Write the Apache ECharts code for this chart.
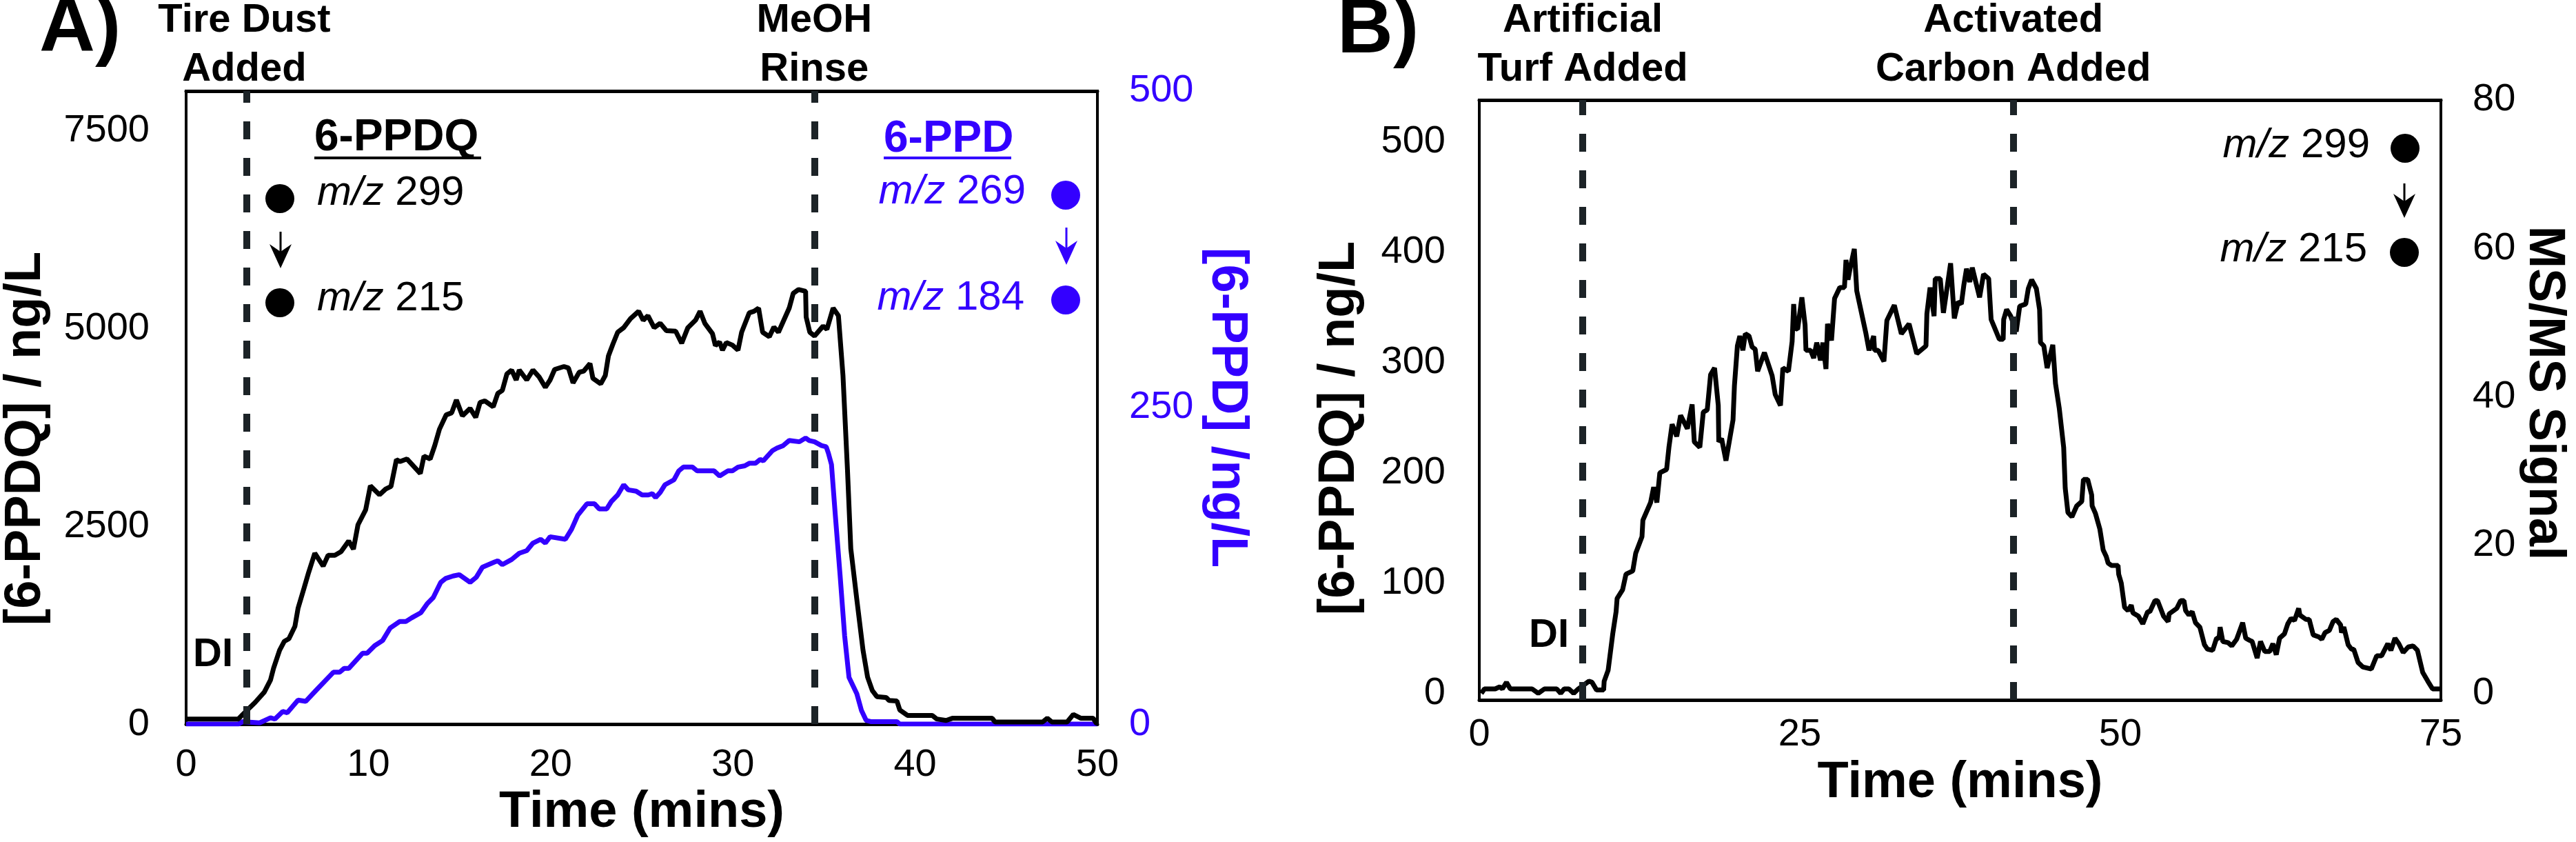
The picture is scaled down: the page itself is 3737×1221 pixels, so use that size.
<!DOCTYPE html>
<html><head><meta charset="utf-8">
<script src="https://cdn.jsdelivr.net/npm/echarts@6/dist/echarts.min.js"></script>
<style>html,body{margin:0;padding:0;background:#fff}#c{width:3737px;height:1221px}</style>
</head><body><div id="c"></div>
<script>
// ---------- DATA ----------
// Panel A: 6-PPDQ (left axis, ng/L)
const timeA_PPDQ = [0,2.86,3.11,3.78,4.29,4.63,4.80,5.13,5.39,5.64,5.97,6.14,6.48,6.72,7.06,7.52,7.79,8.16,8.50,8.92,9.18,9.43,9.85,10.11,10.61,10.95,11.24,11.54,11.74,12.12,12.85,13.05,13.39,13.64,13.90,14.27,14.57,14.83,15.16,15.58,15.89,16.13,16.39,16.85,17.10,17.35,17.60,17.86,18.11,18.28,18.69,19.03,19.37,19.71,19.97,20.22,20.73,20.98,21.23,21.57,21.82,22.16,22.32,22.75,23.00,23.17,23.42,23.68,24.01,24.38,24.83,25.08,25.34,25.68,26.01,26.35,26.86,27.19,27.53,27.95,28.20,28.46,28.88,29.04,29.27,29.43,29.64,29.97,30.28,30.48,30.90,31.16,31.41,31.63,32.00,32.25,32.50,33.09,33.31,33.60,33.99,34.02,34.22,34.48,34.95,35.16,35.50,35.79,36.04,36.29,36.47,36.80,37.14,37.39,37.65,37.90,38.41,38.57,39.00,39.16,39.58,40.94,41.19,41.70,42.04,44.23,44.38,47.00,47.25,47.50,48.34,48.68,49.10,49.77,49.95,50];
const valA_PPDQ = [65,65,122,273,405,557,707,934,1047,1079,1236,1462,1726,1915,2160,1997,2134,2134,2179,2315,2211,2519,2707,3011,2898,2971,3003,3342,3318,3351,3168,3386,3351,3519,3727,3908,3934,4097,3896,3990,3877,4066,4085,4010,4179,4217,4425,4474,4349,4474,4349,4474,4387,4256,4349,4482,4519,4500,4312,4447,4462,4557,4369,4300,4406,4651,4804,4952,5010,5123,5217,5104,5161,5010,5065,4972,4965,4813,5010,5104,5217,5065,4934,4783,4830,4726,4822,4790,4726,4952,5198,5217,5257,4952,4896,5017,4952,5257,5444,5492,5470,5144,4952,4904,5030,4990,5257,5161,4406,3198,2217,1575,934,594,424,348,337,299,292,178,110,110,65,47,74,74,28,28,74,28,28,122,74,74,9,9];
// Panel A: 6-PPD (right axis, ng/L)
const timeA_PPD = [0,2.86,3.11,4.03,4.63,4.87,5.30,5.55,6.14,6.56,7.15,8.08,8.42,8.67,8.92,9.68,9.93,10.35,10.78,11.20,11.71,12.05,12.38,12.88,13.22,13.56,13.97,14.23,14.65,14.99,15.58,15.92,16.26,16.92,17.10,17.35,17.86,18.28,18.69,19.03,19.45,19.71,19.97,20.81,21.15,21.49,21.99,22.41,22.66,23.08,23.34,23.68,24.01,24.26,24.69,25.02,25.36,25.58,25.76,26.01,26.27,26.77,27.03,27.28,27.78,28.04,28.97,29.27,29.72,29.97,30.28,30.65,30.90,31.24,31.50,31.67,32.17,32.42,32.76,33.09,33.65,33.99,34.19,34.48,34.86,35.12,35.24,35.41,35.62,35.88,36.13,36.37,36.80,37.05,37.31,37.56,39.00,39.16,50];
const valA_PPD = [0,0,2,1,5,4,10,9,19,18,27,41,41,44,44,56,56,62,66,76,81,81,84,88,95,100,112,115,117,118,112,116,124,128,129,126,130,135,137,143,146,143,148,146,154,165,174,174,170,170,176,181,189,185,184,181,181,182,179,183,189,193,200,203,203,200,200,196,200,200,203,204,206,206,209,208,216,218,220,224,223,226,224,223,220,219,214,205,165,118,70,37,24,11,3,2,2,0,0];
// Panel B: 6-PPDQ (left axis, ng/L)
const timeB = [0.16,0.40,1.24,1.60,1.80,2.12,2.42,4.12,4.60,5.08,6.04,6.35,6.62,6.99,7.36,7.72,7.96,8.55,8.79,9.15,9.70,9.74,10.05,10.41,10.67,10.75,11.18,11.44,11.97,12.20,12.69,12.76,13.36,13.60,13.85,14.08,14.61,14.79,15.04,15.40,15.70,16.23,16.60,16.77,17.20,17.47,17.78,18.04,18.35,18.64,18.68,18.90,19.24,19.79,19.90,20.13,20.32,20.56,20.75,21.04,21.28,21.52,21.71,22.24,22.84,23.08,23.49,23.68,24.11,24.40,24.52,24.64,24.83,25.16,25.41,25.48,25.84,26.08,26.32,26.61,26.80,27.04,27.16,27.47,27.71,28.12,28.48,28.60,28.76,28.90,29.25,29.44,30.16,30.40,30.76,30.83,31.11,31.56,31.79,32.37,32.92,33.52,34.12,34.84,34.91,35.16,35.47,35.56,35.95,36.20,36.76,37.05,37.35,37.60,37.79,38.00,38.25,38.45,39.02,39.33,39.73,39.92,40.17,40.56,40.86,40.90,41.13,41.45,41.88,42.15,42.62,42.82,43.08,43.45,43.70,43.77,44.03,44.29,44.73,44.94,45.24,45.58,45.70,45.91,46.22,46.60,46.99,47.12,47.45,47.76,47.80,48.06,48.40,48.66,48.90,49.05,49.30,49.82,49.87,50.07,50.33,50.60,50.85,50.98,51.41,51.75,52.13,52.30,52.70,52.90,53.37,53.73,53.80,54.40,54.70,54.96,55.09,55.35,55.60,55.86,56.20,56.56,56.80,57.20,57.50,57.70,57.78,57.99,58.40,58.69,59.07,59.54,59.78,60.09,60.28,60.67,60.93,61.26,61.65,61.90,62.16,62.42,62.80,63.06,63.32,63.58,63.91,64.00,64.48,64.73,65.04,65.50,65.71,65.96,66.30,66.59,66.84,67.18,67.25,67.43,67.77,68.03,68.20,68.54,68.90,69.57,69.99,70.37,70.86,71.10,71.42,71.72,72.06,72.45,72.83,73.17,73.58,73.98,74.35,74.98];
const valB = [0,4,4,6,4,10,4,4,0,4,4,0,4,4,0,4,6,11,10,3,3,11,21,54,74,86,94,108,111,127,142,157,173,187,173,200,203,223,244,233,252,240,262,228,223,255,257,289,295,261,228,231,211,248,279,315,324,311,326,324,314,312,292,309,288,271,261,295,292,319,353,331,330,359,334,311,311,304,318,302,318,294,335,320,358,368,368,393,375,384,403,365,326,311,324,311,311,301,338,352,326,335,308,315,344,368,342,376,376,345,390,340,355,353,370,385,373,386,359,380,376,339,332,321,321,339,348,342,328,351,353,367,375,367,348,318,315,295,316,281,258,223,186,164,160,170,174,194,194,180,170,163,149,130,124,118,116,116,108,100,78,75,80,73,70,63,74,74,84,84,70,65,72,77,84,84,75,71,74,64,60,44,40,39,50,50,60,47,46,43,49,64,50,48,47,32,47,38,38,45,35,50,54,63,68,66,77,71,67,67,53,51,49,55,57,65,67,62,55,60,44,40,40,28,24,22,34,34,45,39,50,45,37,42,43,39,19,11,4,4];

// events (dashed lines) and labels
const eventTimesA = [3.3, 34.5];
const eventLabelsA = [['Tire Dust', 'Added'], ['MeOH', 'Rinse']];
const eventTimesB = [8.07, 41.65];
const eventLabelsB = [['Artificial', 'Turf Added'], ['Activated', 'Carbon Added']];

// tick labels
const xTicksA = [0, 10, 20, 30, 40, 50];
const leftTicksA = [0, 2500, 5000, 7500];
const rightTicksA = [0, 250, 500];
const xTicksB = [0, 25, 50, 75];
const leftTicksB = [0, 100, 200, 300, 400, 500];
const rightTicksB = [0, 20, 40, 60, 80];

// ---------- STYLE ----------
const FONT = "'Liberation Sans', Arial, Helvetica, sans-serif";
const BLUE = '#3300ff';
const DASH = '#1c2327';
const pairs = (t, v) => t.map((x, i) => [x, v[i]]);
const plain = v => String(v);

const gA = {left: 267, top: 132, width: 1325, height: 919};
const gB = {left: 2146, top: 145, width: 1395, height: 870};

function xAxisBottom(gi, min, max, interval, ticks, margin, nameGap) {
  return {
    gridIndex: gi, type: 'value', position: 'bottom', min, max, interval,
    axisLine: {show: true, onZero: false, lineStyle: {color: '#000', width: 5}},
    axisTick: {show: false}, splitLine: {show: false},
    axisLabel: {customValues: ticks, formatter: plain, fontSize: 56, fontFamily: FONT, color: '#000', margin},
    name: 'Time (mins)', nameLocation: 'middle', nameGap,
    nameTextStyle: {fontSize: 74, fontWeight: 'bold', fontFamily: FONT, color: '#000'}
  };
}
function xAxisTop(gi, min, max) {
  return {
    gridIndex: gi, type: 'value', position: 'top', min, max,
    axisLine: {show: true, onZero: false, lineStyle: {color: '#000', width: 5}},
    axisTick: {show: false}, splitLine: {show: false}, axisLabel: {show: false}
  };
}
function yAxis(gi, pos, min, max, ticks, color, margin, name, nameGap, rotate, padding) {
  return {
    gridIndex: gi, type: 'value', position: pos, min, max,
    axisLine: {show: true, onZero: false, lineStyle: {color: '#000', width: 4}},
    axisTick: {show: false}, splitLine: {show: false},
    axisLabel: {customValues: ticks, formatter: plain, fontSize: 56, fontFamily: FONT, color, margin},
    name, nameLocation: 'middle', nameGap, nameRotate: rotate,
    nameTextStyle: {fontSize: 74, fontWeight: 'bold', fontFamily: FONT, color, padding}
  };
}
function markLines(times) {
  return {
    silent: true, symbol: ['none', 'none'], animation: false,
    label: {show: false},
    lineStyle: {color: DASH, width: 10, type: [26, 27], opacity: 1},
    emphasis: {disabled: true},
    data: times.map(t => ({xAxis: t}))
  };
}

// ---------- annotation graphics ----------
const G = [];
function txt(x, y, text, o) {
  o = o || {};
  const st = {
    text, x, y,
    fontSize: o.size || 58, fontWeight: o.bold ? 'bold' : 'normal', fontFamily: FONT,
    fill: o.color || '#000', textFill: o.color || '#000',
    align: o.align || 'left', textAlign: o.align || 'left',
    verticalAlign: 'middle', textVerticalAlign: 'middle'
  };
  if (o.rich) st.rich = o.rich;
  G.push({type: 'text', z: 100, style: st});
}
function circle(cx, cy, color) {
  G.push({type: 'circle', z: 100, shape: {cx, cy, r: 21}, style: {fill: color}});
}
function arrow(x, yTop, yTip, color) {
  G.push({type: 'line', z: 100, shape: {x1: x, y1: yTop, x2: x, y2: yTip - 20}, style: {stroke: color, lineWidth: 3}});
  const h = 35;
  G.push({type: 'polygon', z: 100, shape: {points: [[x - 16, yTip - h], [x, yTip], [x + 16, yTip - h], [x, yTip - h + 11]]}, style: {fill: color}});
}
function underline(x1, x2, y, color) {
  G.push({type: 'line', z: 100, shape: {x1, y1: y, x2, y2: y}, style: {stroke: color, lineWidth: 4}});
}
const mzRich = (c) => ({i: {fontStyle: 'italic', fontSize: 60, fontFamily: FONT, fill: c, textFill: c}});

// panel letters
txt(57, 43, 'A)', {size: 112, bold: true});
txt(1940, 45, 'B)', {size: 112, bold: true});
// event labels (centred on the dashed lines)
const xA = t => gA.left + t / 50 * gA.width;
const xB = t => gB.left + t / 75 * gB.width;
eventLabelsA.forEach((l, i) => { txt(xA(eventTimesA[i]), 30, l[0], {bold: true, align: 'center'}); txt(xA(eventTimesA[i]), 101, l[1], {bold: true, align: 'center'}); });
eventLabelsB.forEach((l, i) => { txt(xB(eventTimesB[i]), 30, l[0], {bold: true, align: 'center'}); txt(xB(eventTimesB[i]), 101, l[1], {bold: true, align: 'center'}); });
// DI labels
txt(280, 950, 'DI', {bold: true});
txt(2218, 922, 'DI', {bold: true});
// Panel A legend: 6-PPDQ
txt(456, 200, '6-PPDQ', {size: 64, bold: true});
underline(456, 698, 229, '#000');
circle(406, 288, '#000');
txt(460, 280, '{i|m/z} 299', {size: 60, rich: mzRich('#000')});
arrow(407, 336, 389, '#000');
circle(406, 439, '#000');
txt(460, 433, '{i|m/z} 215', {size: 60, rich: mzRich('#000')});
// Panel A legend: 6-PPD
txt(1282, 202, '6-PPD', {size: 64, bold: true, color: BLUE});
underline(1282, 1467, 229, BLUE);
txt(1488, 278, '{i|m/z} 269', {size: 60, align: 'right', color: BLUE, rich: mzRich(BLUE)});
circle(1546, 283, BLUE);
arrow(1547, 330, 384, BLUE);
txt(1486, 432, '{i|m/z} 184', {size: 60, align: 'right', color: BLUE, rich: mzRich(BLUE)});
circle(1546, 435, BLUE);
// Panel B legend
txt(3438, 211, '{i|m/z} 299', {size: 60, align: 'right', rich: mzRich('#000')});
circle(3489, 215, '#000');
arrow(3488, 266, 316, '#000');
txt(3434, 362, '{i|m/z} 215', {size: 60, align: 'right', rich: mzRich('#000')});
circle(3488, 366, '#000');

const option = {
  animation: false,
  backgroundColor: '#fff',
  grid: [
    Object.assign({show: true, borderColor: '#000', borderWidth: 4, containLabel: false}, gA),
    Object.assign({show: true, borderColor: '#000', borderWidth: 4, containLabel: false}, gB)
  ],
  xAxis: [
    xAxisBottom(0, 0, 50, 10, xTicksA, 31, 88),
    xAxisTop(0, 0, 50),
    xAxisBottom(1, 0, 75, 25, xTicksB, 23, 84),
    xAxisTop(1, 0, 75)
  ],
  yAxis: [
    yAxis(0, 'left', 0, 8000, leftTicksA, '#000', 53, '[6-PPDQ] / ng/L', 195, 90, [0, 90, 0, 0]),
    yAxis(0, 'right', 0, 500, rightTicksA, BLUE, 46, '[6-PPD] /ng/L', 150, -90, [0, 0, 0, 0]),
    yAxis(1, 'left', -6, 538, leftTicksB, '#000', 49, '[6-PPDQ] / ng/L', 165, 90, [0, 82, 0, 0]),
    yAxis(1, 'right', -0.9, 80, rightTicksB, '#000', 46, 'MS/MS Signal', 112, -90, [0, 20, 0, 0])
  ],
  series: [
    {name: '6-PPD', type: 'line', xAxisIndex: 0, yAxisIndex: 1, data: pairs(timeA_PPD, valA_PPD),
     showSymbol: false, symbol: 'none', lineStyle: {color: BLUE, width: 7}, itemStyle: {color: BLUE}, z: 3},
    {name: '6-PPDQ (A)', type: 'line', xAxisIndex: 0, yAxisIndex: 0, data: pairs(timeA_PPDQ, valA_PPDQ),
     showSymbol: false, symbol: 'none', lineStyle: {color: '#000', width: 7}, itemStyle: {color: '#000'}, z: 4,
     markLine: markLines(eventTimesA)},
    {name: '6-PPDQ (B)', type: 'line', xAxisIndex: 2, yAxisIndex: 2, data: pairs(timeB, valB),
     showSymbol: false, symbol: 'none', lineStyle: {color: '#000', width: 7}, itemStyle: {color: '#000'}, z: 4,
     markLine: markLines(eventTimesB)}
  ],
  graphic: G
};
const chart = echarts.init(document.getElementById('c'), null, {renderer: 'canvas'});
chart.setOption(option);
</script>
</body></html>
